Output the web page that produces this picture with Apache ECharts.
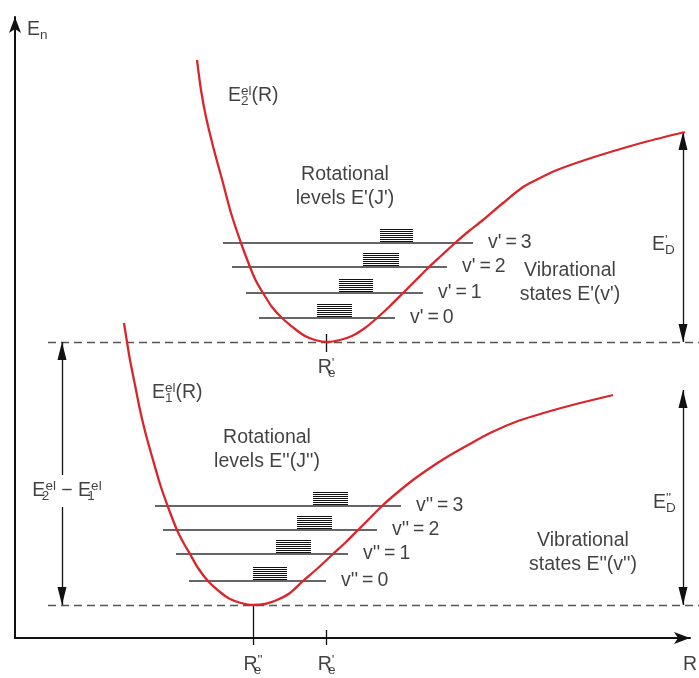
<!DOCTYPE html>
<html>
<head>
<meta charset="utf-8">
<script src="https://cdn.jsdelivr.net/npm/echarts@6/dist/echarts.min.js"></script>
<style>
  html, body { margin: 0; padding: 0; background: #fff; }
  #main { width: 699px; height: 678px; }
</style>
</head>
<body>
<div id="main"></div>
<script>
// diagram units: R to the right, E upward
const upperCurve = [[182,578],[186,548],[191,521],[199,488],[208,455],[216,425],[226,395],[235,371],[241,357],[248,345],[257,331],[267,320],[280,309],[290,302],[300,298],[312,296],[325,298],[337,302],[350,310],[362,320],[375,332],[388,345],[401,358],[414,371],[427,383],[440,395],[454,407],[468,418],[488,435],[508,451],[525,460],[542,468],[567,477],[592,485],[630,496],[670,506]];
const lowerCurve = [[109,315],[112,296],[115,278],[120,253],[125,228],[131,203],[138,178],[145,154],[153,131],[162,108],[168,96],[175,84],[183,70],[193,57],[205,46],[215,39],[226,35],[238,33],[250,34],[262,38],[275,45],[288,57],[303,70],[318,84],[331,96],[343,108],[355,120],[368,133],[383,146],[398,158],[415,170],[432,181],[453,193],[475,205],[503,217],[532,226],[565,235],[598,243]];

// vibrational levels v = 0..3
const upperLevelE = [320, 345, 371, 395];
const upperLevelFrom = [244, 231, 217, 208];
const upperLevelTo = [380, 408, 432, 458];
const upperRotFrom = [302, 324, 348, 365];
const upperRotTo = [337, 358, 384, 398];
const upperVib = ["v'\u2009=\u20090", "v'\u2009=\u20091", "v'\u2009=\u20092", "v'\u2009=\u20093"];

const lowerLevelE = [57, 84, 108, 132];
const lowerLevelFrom = [174, 161, 148, 140];
const lowerLevelTo = [311, 333, 362, 386];
const lowerRotFrom = [238, 261, 282, 298];
const lowerRotTo = [272, 296, 317, 333];
const lowerVib = ["v''\u2009=\u20090", "v''\u2009=\u20091", "v''\u2009=\u20092", "v''\u2009=\u20093"];

// rotational sublevels above each vibrational level
const rotSteps = [2, 4, 6, 8, 10, 12, 14];

const minE = [296, 33];        // well bottoms (dashed lines)
const dashFrom = 33, dashTo = 684;
const ReUpper = 311, ReLower = 238;
const dissocE = [506, 248];    // asymptote ends of both curves
const arrowR = 668, gapR = 47;
const gapText = [131, 163];    // break in the E2-E1 arrow

const INK = '#111';
const FONT = '"Liberation Sans", Arial, sans-serif';

const notes = [
  {text: 'E{sub|n}', at: [12, 608], align: 'left'},
  {text: 'E{sub0|2}{sup|el}(R)', at: [213, 542], align: 'left'},
  {text: 'E{sub0|1}{sup|el}(R)', at: [137, 245], align: 'left'},
  {text: 'E{sub0|2}{sup|el} \u2212 E{sub0|1}{sup|el}', at: [52, 147], align: 'center'},
  {text: "E{sub0|D}{sup|'}", at: [637, 393], align: 'left'},
  {text: "E{sub0|D}{sup|''}", at: [638, 135], align: 'left'},
  {text: "Rotational\nlevels E'(J')", at: [330, 451], align: 'center'},
  {text: "Rotational\nlevels E''(J'')", at: [252, 188], align: 'center'},
  {text: "Vibrational\nstates E'(v')", at: [555, 355], align: 'center'},
  {text: "Vibrational\nstates E''(v'')", at: [568, 85], align: 'center'},
  {text: "R{sub0|e}{sup|'}", at: [ReUpper, 270], align: 'center'},
  {text: "R{sub0|e}{sup|''}", at: [ReLower, -27], align: 'center'},
  {text: "R{sub0|e}{sup|'}", at: [ReUpper, -27], align: 'center'},
  {text: 'R', at: [675, -27], align: 'center'}
];
upperVib.forEach((t, i) => notes.push({text: t, at: [upperLevelTo[i] + 15, upperLevelE[i]], align: 'left'}));
lowerVib.forEach((t, i) => notes.push({text: t, at: [lowerLevelTo[i] + 15, lowerLevelE[i]], align: 'left'}));

function seg(r1, e1, r2, e2){
    return {coords: [[r1, e1], [r2, e2]]};
}

let levels = [];
let rot = [];
for (let i = 0; i < 4; i++){
    levels.push(seg(upperLevelFrom[i], upperLevelE[i], upperLevelTo[i], upperLevelE[i]));
    levels.push(seg(lowerLevelFrom[i], lowerLevelE[i], lowerLevelTo[i], lowerLevelE[i]));
    for (let s of rotSteps){
        rot.push(seg(upperRotFrom[i], upperLevelE[i] + s, upperRotTo[i], upperLevelE[i] + s));
        rot.push(seg(lowerRotFrom[i], lowerLevelE[i] + s, lowerRotTo[i], lowerLevelE[i] + s));
    }
}

let dashes = minE.map(e => seg(dashFrom, e, dashTo, e));

let shafts = [
    seg(arrowR, minE[0], arrowR, dissocE[0]),
    seg(arrowR, minE[1], arrowR, dissocE[1]),
    seg(gapR, gapText[1], gapR, minE[0]),
    seg(gapR, minE[1], gapR, gapText[0])
];
let upHeads = [[arrowR, dissocE[0]], [arrowR, dissocE[1]], [gapR, minE[0]]];
let downHeads = [[arrowR, minE[0]], [arrowR, minE[1]], [gapR, minE[1]]];

let ticks = [
    seg(ReUpper, minE[0] - 10, ReUpper, minE[0] + 8),
    seg(ReLower, minE[1], ReLower, -7),
    seg(ReUpper, 8, ReUpper, -7)
];

const small = {fontSize: 13.5, fontFamily: FONT, color: INK, lineHeight: 12};
let rich = {
    sup: Object.assign({}, small, {verticalAlign: 'top'}),
    sub: Object.assign({}, small, {verticalAlign: 'bottom', padding: [6, 0, 0, 0]}),
    sub0: Object.assign({}, small, {verticalAlign: 'bottom', padding: [6, 0, 0, 0], width: 0})
};

function lineSeries(data, color, width, type){
    return {
        type: 'lines',
        coordinateSystem: 'cartesian2d',
        data: data,
        clip: false,
        silent: true,
        lineStyle: {color: color, width: width, opacity: 1, type: type || 'solid', curveness: 0}
    };
}

function headSeries(data, path, offset){
    return {
        type: 'scatter',
        data: data,
        clip: false,
        silent: true,
        symbol: path,
        symbolSize: [9, 18],
        symbolOffset: [0, offset],
        itemStyle: {color: '#111', opacity: 1}
    };
}

function curveSeries(data){
    return {
        type: 'line', data: data, smooth: 0.25, showSymbol: false, silent: true,
        lineStyle: {color: '#d8262b', width: 2.3}
    };
}

let option = {
    animation: false,
    backgroundColor: '#fff',
    grid: {left: 15, right: 9, top: 17, bottom: 40},
    xAxis: {
        type: 'value', min: 0, max: 675,
        axisLine: {show: true, symbol: ['none', 'arrow'], symbolSize: [9, 16], lineStyle: {color: '#111', width: 2}},
        axisTick: {show: false}, axisLabel: {show: false}, splitLine: {show: false}
    },
    yAxis: {
        type: 'value', min: 0, max: 621,
        axisLine: {show: true, symbol: ['none', 'arrow'], symbolSize: [9, 16], lineStyle: {color: '#111', width: 2}},
        axisTick: {show: false}, axisLabel: {show: false}, splitLine: {show: false}
    },
    series: [
        lineSeries(dashes, '#555', 1.3, [8, 5]),
        lineSeries(levels, '#333', 1.5),
        lineSeries(rot, '#111', 1.1),
        lineSeries(shafts, '#111', 1.3),
        lineSeries(ticks, '#111', 1.3),
        curveSeries(upperCurve),
        curveSeries(lowerCurve),
        headSeries(upHeads, 'path://M5,0L10,20L0,20Z', 9),
        headSeries(downHeads, 'path://M0,0L10,0L5,20Z', -9),
        {
            type: 'scatter',
            clip: false,
            silent: true,
            symbolSize: 0,
            data: notes.map(n => ({value: n.at, text: n.text, label: {align: n.align}})),
            label: {
                show: true,
                position: 'inside',
                verticalAlign: 'middle',
                formatter: p => p.data.text,
                fontSize: 19.5,
                fontFamily: FONT,
                color: INK,
                lineHeight: 24,
                rich: rich
            }
        }
    ]
};

var chart = echarts.init(document.getElementById('main'));
chart.setOption(option);
</script>
</body>
</html>
